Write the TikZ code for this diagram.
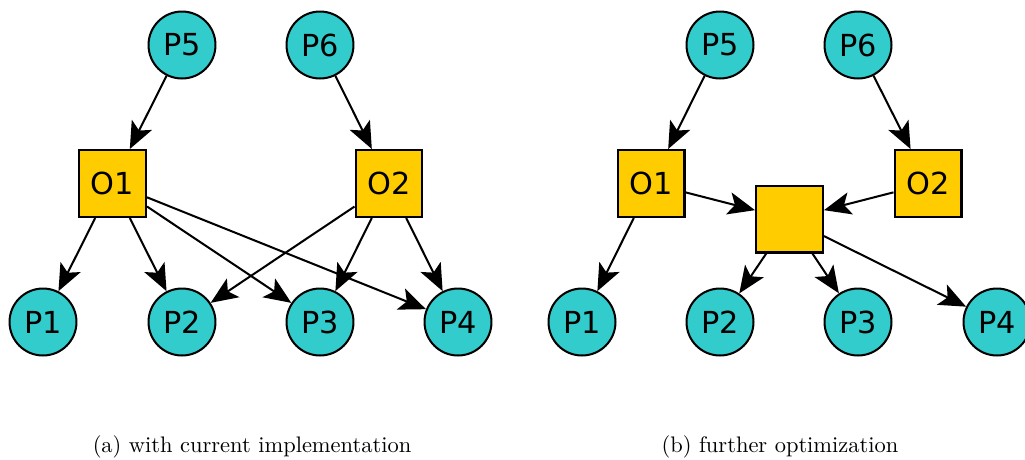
\documentclass[tikz,border=0pt]{standalone}
\usepackage{fontspec}
\newfontfamily\nodefont{DejaVu Sans}
\usepackage{xcolor}
\usetikzlibrary{arrows.meta}
\definecolor{proccyan}{RGB}{51,204,204}
\definecolor{opyellow}{RGB}{255,204,0}

\begin{document}
\begin{tikzpicture}[x=0.01564cm, y=-0.01564cm,
        proc/.style={circle, draw, line width=0.9pt, fill=proccyan, minimum size=29.8pt, inner sep=0pt,
            font=\nodefont\fontsize{13.5}{16}\selectfont},
        op/.style={rectangle, draw, line width=0.9pt, fill=opyellow, minimum size=29.8pt, inner sep=0pt,
            font=\nodefont\fontsize{13.5}{16}\selectfont},
        edge/.style={-{Stealth[length=12pt, width=10pt, inset=2.8pt]}, line width=0.9pt}]
        \useasboundingbox (0,0) rectangle (1025,459);

        % (a) current implementation
        \node[proc] (p5a) at (182,45) {P5};
        \node[proc] (p6a) at (320,45) {P6};
        \node[op] (o1a) at (112.5,183.5) {O1};
        \node[op] (o2a) at (389,183.5) {O2};
        \node[proc] (p1a) at (43,322) {P1};
        \node[proc] (p2a) at (182,322) {P2};
        \node[proc] (p3a) at (320,322) {P3};
        \node[proc] (p4a) at (458,322) {P4};

        \draw[edge] (p5a) -- (o1a);
        \draw[edge] (p6a) -- (o2a);
        \draw[edge] (o1a) -- (p1a);
        \draw[edge] (o1a) -- (p2a);
        \draw[edge] (o1a) -- (p3a);
        \draw[edge] (o1a) -- (p4a);
        \draw[edge] (o2a) -- (p2a);
        \draw[edge] (o2a) -- (p3a);
        \draw[edge] (o2a) -- (p4a);

        % (b) merged operator in the middle
        \node[proc] (p5b) at (720,45) {P5};
        \node[proc] (p6b) at (858,45) {P6};
        \node[op] (o1b) at (651,183.5) {O1};
        \node[op] (mid) at (789.5,219) {};
        \node[op] (o2b) at (928,183.5) {O2};
        \node[proc] (p1b) at (582,322) {P1};
        \node[proc] (p2b) at (720,322) {P2};
        \node[proc] (p3b) at (858,322) {P3};
        \node[proc] (p4b) at (997,322) {P4};

        \draw[edge] (p5b) -- (o1b);
        \draw[edge] (p6b) -- (o2b);
        \draw[edge] (o1b) -- (p1b);
        \draw[edge] (o1b) -- (mid);
        \draw[edge] (o2b) -- (mid);
        \draw[edge] (mid) -- (p2b);
        \draw[edge] (mid) -- (p3b);
        \draw[edge] (mid) -- (p4b);

        % captions
        \node[anchor=base] (capa) at (252,452) {(a) with current implementation};
        \node[anchor=base] (capb) at (780,452) {(b) further optimization};
    \end{tikzpicture}
\end{document}
